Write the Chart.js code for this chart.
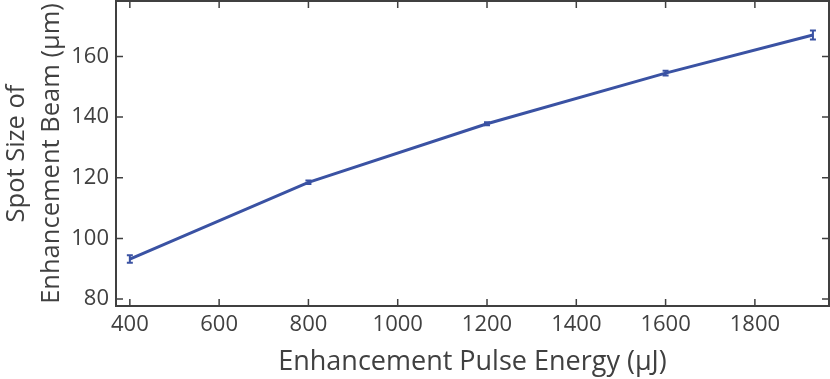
<!DOCTYPE html>
<html>
<head>
<meta charset="utf-8">
<script src="https://cdn.jsdelivr.net/npm/chart.js@4.4.1/dist/chart.umd.min.js"></script>
<style>
  html, body { margin: 0; padding: 0; background: #fff; }
  #wrap { width: 830px; height: 379px; }
</style>
</head>
<body>
<div id="wrap"><canvas id="chart" width="830" height="379"></canvas></div>
<script>
const energies = [400, 800, 1200, 1600, 1930];
const spotSizes = [93.2, 118.5, 137.8, 154.5, 167.1];
const spotErrors = [1.2, 0.6, 0.5, 0.8, 1.5];
const xTicks = [400, 600, 800, 1000, 1200, 1400, 1600, 1800];
const yTicks = [80, 100, 120, 140, 160];

const lineColor = "#3a52a3";
const axisColor = "#404040";
const font = "'Open Sans', 'DejaVu Sans', sans-serif";

// error bars + inward ticks on all four sides
const extras = {
  id: "extras",
  afterDatasetsDraw(chart) {
    const ctx = chart.ctx;
    const x = chart.scales.x, y = chart.scales.y;
    ctx.save();
    ctx.strokeStyle = lineColor;
    ctx.lineWidth = 2;
    energies.forEach((e, i) => {
      const px = x.getPixelForValue(e);
      const top = y.getPixelForValue(spotSizes[i] + spotErrors[i]);
      const bot = y.getPixelForValue(spotSizes[i] - spotErrors[i]);
      ctx.beginPath();
      ctx.moveTo(px, top); ctx.lineTo(px, bot);
      ctx.moveTo(px - 3, top); ctx.lineTo(px + 3, top);
      ctx.moveTo(px - 3, bot); ctx.lineTo(px + 3, bot);
      ctx.stroke();
    });
    ctx.restore();
  },
  afterDraw(chart) {
    const ctx = chart.ctx;
    const a = chart.chartArea;
    const x = chart.scales.x, y = chart.scales.y;
    ctx.save();
    ctx.strokeStyle = axisColor;
    ctx.lineWidth = 2;
    ctx.strokeRect(a.left, a.top, a.right - a.left, a.bottom - a.top);
    ctx.lineWidth = 1.5;
    ctx.beginPath();
    xTicks.forEach(v => {
      const px = x.getPixelForValue(v);
      ctx.moveTo(px, a.bottom); ctx.lineTo(px, a.bottom - 7);
      ctx.moveTo(px, a.top); ctx.lineTo(px, a.top + 7);
    });
    yTicks.forEach(v => {
      const py = y.getPixelForValue(v);
      ctx.moveTo(a.left, py); ctx.lineTo(a.left + 7, py);
      ctx.moveTo(a.right, py); ctx.lineTo(a.right - 7, py);
    });
    ctx.stroke();
    ctx.restore();
  }
};

new Chart(document.getElementById("chart"), {
  type: "line",
  data: {
    datasets: [{
      data: energies.map((e, i) => ({ x: e, y: spotSizes[i] })),
      borderColor: lineColor,
      borderWidth: 3,
      pointRadius: 0,
      fill: false,
      tension: 0
    }]
  },
  options: {
    responsive: false,
    animation: false,
    layout: { padding: { top: 1, right: 1, left: 0, bottom: 0 } },
    plugins: { legend: { display: false }, tooltip: { enabled: false } },
    scales: {
      x: {
        type: "linear",
        min: 369,
        max: 1966,
        afterBuildTicks: s => { s.ticks = xTicks.map(v => ({ value: v })); },
        afterFit: s => { s.height = 73; s.paddingLeft = 0; s.paddingRight = 0; },
        grid: { display: false, drawTicks: false },
        border: { display: false },
        ticks: { color: axisColor, font: { family: font, size: 22 }, padding: 6, maxRotation: 0,
                 callback: v => String(v) },
        title: {
          display: true,
          text: "Enhancement Pulse Energy (\u03bcJ)",
          color: axisColor,
          font: { family: font, size: 27 },
          padding: { top: 0, bottom: 0 }
        }
      },
      y: {
        min: 77.7,
        max: 178.3,
        afterBuildTicks: s => { s.ticks = yTicks.map(v => ({ value: v })); },
        afterFit: s => { s.width = 116; s.paddingTop = 0; s.paddingBottom = 0; },
        grid: { display: false, drawTicks: false },
        border: { display: false },
        ticks: { color: axisColor, font: { family: font, size: 22 }, padding: 7,
                 callback: v => String(v) },
        title: {
          display: true,
          text: ["Spot Size of", "Enhancement Beam (\u03bcm)"],
          color: axisColor,
          font: { family: font, size: 25.5, lineHeight: 1.35 },
          padding: { top: 0, bottom: 0 }
        }
      }
    }
  },
  plugins: [extras]
});
</script>
</body>
</html>
